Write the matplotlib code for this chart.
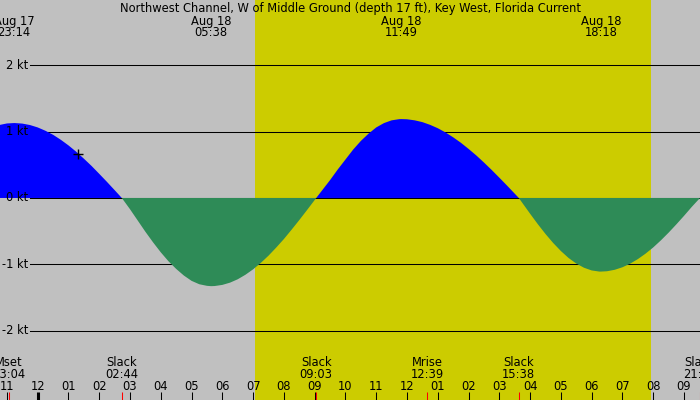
import matplotlib
matplotlib.use("Agg")
import matplotlib.pyplot as plt
import matplotlib.transforms as mtransforms
import numpy as np

title = "Northwest Channel, W of Middle Ground (depth 17 ft), Key West, Florida Current"

# current readings, hours from midnight Aug 18 (negative = Aug 17)
hours = [-1.25, -1.0, -0.767, -0.75, -0.5, -0.25, 0.0, 0.25, 0.5, 0.75,
         1.0, 1.25, 1.5, 1.75, 2.0, 2.25, 2.5, 2.733,
         3.0, 3.25, 3.5, 3.75, 4.0, 4.25, 4.5, 4.75, 5.0, 5.25, 5.5, 5.633,
         5.75, 6.0, 6.25, 6.5, 6.75, 7.0, 7.25, 7.5, 7.75, 8.0, 8.25, 8.5,
         8.75, 9.05,
         9.25, 9.5, 9.75, 10.0, 10.25, 10.5, 10.75, 11.0, 11.25, 11.5, 11.75,
         11.817,
         12.0, 12.25, 12.5, 12.75, 13.0, 13.25, 13.5, 13.75, 14.0, 14.25,
         14.5, 14.75, 15.0, 15.25, 15.5, 15.633,
         15.75, 16.0, 16.25, 16.5, 16.75, 17.0, 17.25, 17.5, 17.75, 18.0,
         18.25, 18.3,
         18.5, 18.75, 19.0, 19.25, 19.5, 19.75, 20.0, 20.25, 20.5, 20.75,
         21.0, 21.25, 21.52]
knots = [1.10, 1.124, 1.13, 1.13, 1.122, 1.10, 1.064, 1.014, 0.953, 0.878,
         0.793, 0.698, 0.593, 0.483, 0.364, 0.243, 0.118, 0.0,
         -0.17, -0.34, -0.51, -0.67, -0.82, -0.955, -1.07, -1.17, -1.25,
         -1.301, -1.325, -1.33,
         -1.328, -1.311, -1.277, -1.226, -1.158, -1.076, -0.979, -0.870,
         -0.748, -0.619, -0.478, -0.333, -0.183, 0.0,
         0.12, 0.27, 0.43, 0.58, 0.73, 0.86, 0.97, 1.064, 1.129, 1.171,
         1.189, 1.19,
         1.187, 1.171, 1.144, 1.103, 1.052, 0.989, 0.915, 0.833, 0.740,
         0.642, 0.535, 0.423, 0.306, 0.187, 0.065, 0.0,
         -0.076, -0.238, -0.395, -0.543, -0.679, -0.800, -0.905, -0.989,
         -1.052, -1.093, -1.11, -1.11,
         -1.105, -1.083, -1.045, -0.991, -0.922, -0.840, -0.746, -0.639,
         -0.523, -0.399, -0.270, -0.136, 0.0]

# max current labels along the top
peak_days = ["Aug 17", "Aug 18", "Aug 18", "Aug 18"]
peak_times = ["23:14", "05:38", "11:49", "18:18"]

# slack / moon events along the bottom
event_names = ["Mset", "Slack", "Slack", "Mrise", "Slack", "Slack"]
event_days = ["Aug 17", "Aug 18", "Aug 18", "Aug 18", "Aug 18", "Aug 18"]
event_times = ["23:04", "02:44", "09:03", "12:39", "15:38", "21:31"]

sunrise = "07:04"
sunset = "19:55"
now_time = "01:19"
now_kt = 0.66

kt_levels = [-2, -1, 0, 1, 2]
tick_hours = list(range(-1, 22))


def to_hours(t, day="Aug 18"):
    hh, mm = t.split(":")
    h = int(hh) + int(mm) / 60.0
    if day == "Aug 17":
        h -= 24
    return h


fig = plt.figure(figsize=(7, 4), dpi=100)
ax = fig.add_axes([0, 0, 1, 1])
ax.set_facecolor("#c0c0c0")
ax.set_xlim(-1.225, 21.52)
ax.set_ylim(-3.047, 2.986)
ax.axis("off")

ax.axvspan(to_hours(sunrise), to_hours(sunset), color="#cccc00", lw=0, zorder=0)

# y grid, starting right of the labels
for lv in kt_levels:
    ax.axhline(lv, xmin=30 / 700, xmax=1, color="black", lw=0.75, zorder=1)
    ax.text(28 / 700, lv, f"{lv} kt", transform=ax.get_yaxis_transform(),
            ha="right", va="center", fontsize=8.3, zorder=4)

x = np.array(hours)
y = np.array(knots)
ax.fill_between(x, y, 0, where=y >= 0, interpolate=True, color="#0000ff", lw=0, zorder=2)
ax.fill_between(x, y, 0, where=y <= 0, interpolate=True, color="#2e8b57", lw=0, zorder=2)

ax.plot(to_hours(now_time), now_kt, marker="+", color="black", ms=7, mew=1, zorder=5)

trans = mtransforms.blended_transform_factory(ax.transData, ax.transAxes)


def ypix(p):
    return 1 - p / 400.0


ax.text(0.5, ypix(12), title, transform=ax.transAxes, ha="center", va="baseline", fontsize=8.3)

for d, t in zip(peak_days, peak_times):
    h = to_hours(t, d)
    ax.text(h, ypix(24.5), d, transform=trans, ha="center", va="baseline", fontsize=8.3)
    ax.text(h, ypix(36), t, transform=trans, ha="center", va="baseline", fontsize=8.3)

for n, d, t in zip(event_names, event_days, event_times):
    h = to_hours(t, d)
    ax.text(h, ypix(366.5), n, transform=trans, ha="center", va="baseline", fontsize=8.3)
    ax.text(h, ypix(378), t, transform=trans, ha="center", va="baseline", fontsize=8.3)
    ax.vlines(h, 0, 8 / 400, transform=trans, color="red", lw=0.75, zorder=6)

for h in tick_hours:
    lab = f"{(h % 12) or 12:02d}"
    ax.text(h, ypix(390), lab, transform=trans, ha="center", va="baseline", fontsize=8.3)
    ax.vlines(h, 0, 8 / 400, transform=trans, color="black",
              lw=2.2 if h == 0 else 0.75, zorder=5)

fig.savefig("out.png", dpi=100, facecolor="#c0c0c0")
